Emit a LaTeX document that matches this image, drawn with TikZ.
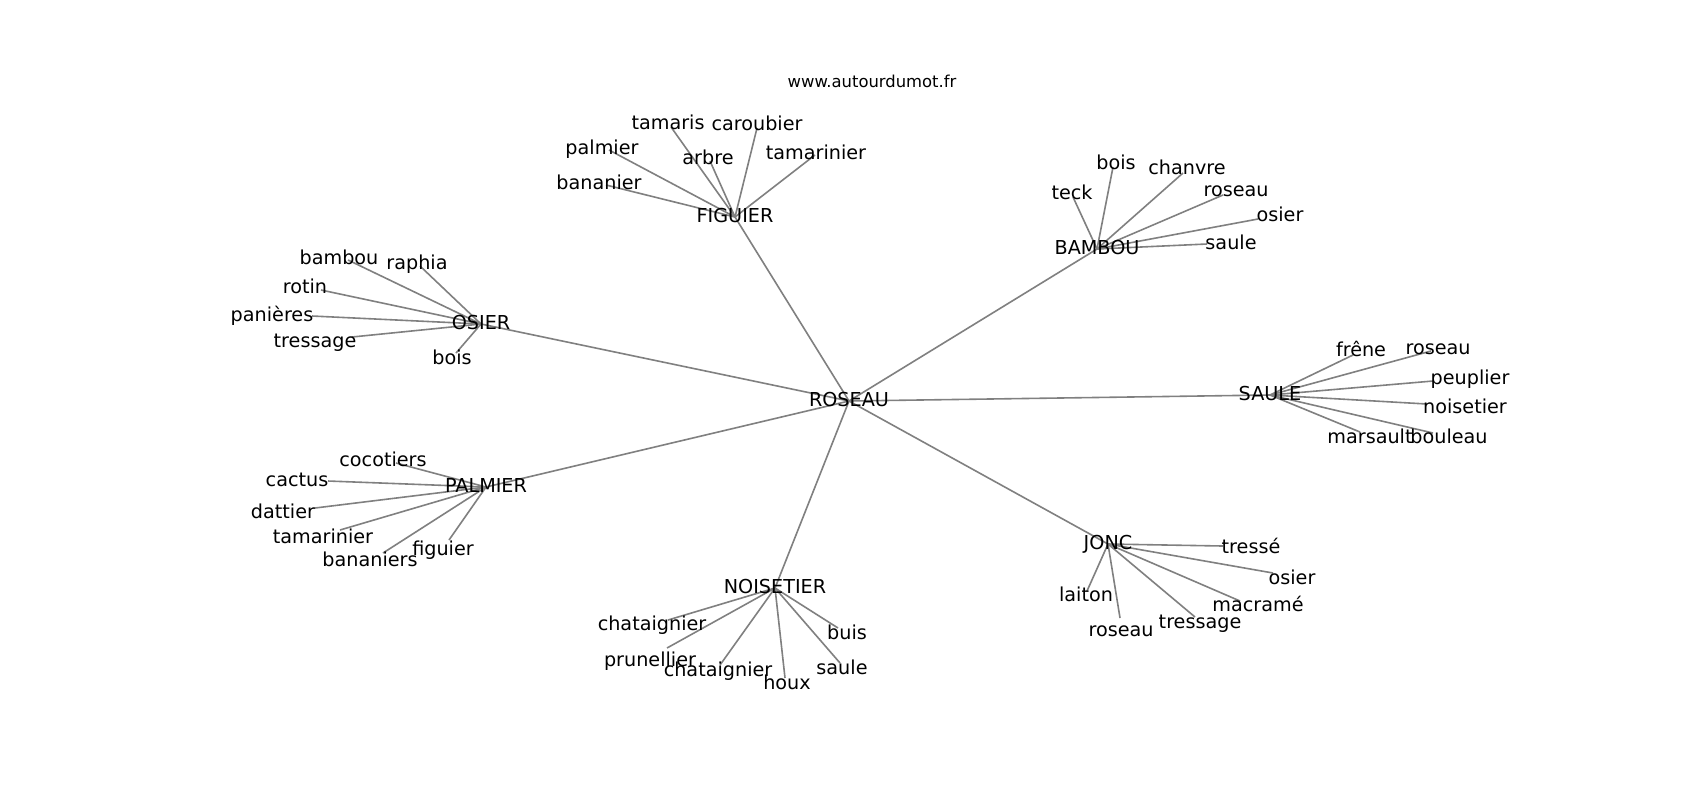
\documentclass[tikz,border=0pt]{standalone}
\usepackage{fontspec}
\setmainfont{DejaVu Sans}
\pgfdeclarelayer{bg}
\pgfdeclarelayer{edgelayer}
\pgfsetlayers{bg,edgelayer,main}
\newcommand{\lblfont}{\fontsize{9.6pt}{11pt}\selectfont}
\newcommand{\ttlfont}{\fontsize{8.2pt}{10pt}\selectfont}
\tikzset{
  txt/.style={font=\lblfont, text=black, text height=0.75em, text depth=0.25em, yshift=-1pt, inner sep=0pt},
  hub/.style={txt},
  leaf/.style={txt},
  edge/.style={draw=black!50, line width=0.8pt},
}
\begin{document}
\begin{tikzpicture}[x=0.5pt, y=-0.5pt]
\begin{pgfonlayer}{bg}
\fill[white] (0,0) rectangle (1700,800);
\end{pgfonlayer}
\useasboundingbox (0,0) rectangle (1700,800);

\node[font=\ttlfont, inner sep=0pt] (title) at (872,81) {www.autourdumot.fr};

% hubs
\node[hub] (ROSEAU) at (849,399) {ROSEAU};
\node[hub] (FIGUIER) at (735,215) {FIGUIER};
\node[hub] (BAMBOU) at (1097,247) {BAMBOU};
\node[hub] (OSIER) at (481,322) {OSIER};
\node[hub] (SAULE) at (1270,393) {SAULE};
\node[hub] (PALMIER) at (486,485) {PALMIER};
\node[hub] (JONC) at (1108,542) {JONC};
\node[hub] (NOISETIER) at (775,586) {NOISETIER};

% FIGUIER leaves
\node[leaf] (f-tamaris) at (668,122) {tamaris};
\node[leaf] (f-caroubier) at (757,123) {caroubier};
\node[leaf] (f-palmier) at (602,147) {palmier};
\node[leaf] (f-arbre) at (708,157) {arbre};
\node[leaf] (f-tamarinier) at (816,152) {tamarinier};
\node[leaf] (f-bananier) at (599,182) {bananier};
\coordinate (f-tamaris-e) at (671,127);
\coordinate (f-caroubier-e) at (757,128);
\coordinate (f-palmier-e) at (609,150);
\coordinate (f-arbre-e) at (710,161);
\coordinate (f-tamarinier-e) at (815,155);
\coordinate (f-bananier-e) at (606,185);

% BAMBOU leaves
\node[leaf] (b-teck) at (1072,192) {teck};
\node[leaf] (b-bois) at (1116,162) {bois};
\node[leaf] (b-chanvre) at (1187,167) {chanvre};
\node[leaf] (b-roseau) at (1236,189) {roseau};
\node[leaf] (b-osier) at (1280,214) {osier};
\node[leaf] (b-saule) at (1231,242) {saule};
\coordinate (b-teck-e) at (1073,197);
\coordinate (b-bois-e) at (1113,167);
\coordinate (b-chanvre-e) at (1183,173);
\coordinate (b-roseau-e) at (1223,195);
\coordinate (b-osier-e) at (1258,219);
\coordinate (b-saule-e) at (1207,244);

% OSIER leaves
\node[leaf] (o-bambou) at (339,257) {bambou};
\node[leaf] (o-raphia) at (417,262) {raphia};
\node[leaf] (o-rotin) at (305,286) {rotin};
\node[leaf] (o-panieres) at (272,314) {panières};
\node[leaf] (o-tressage) at (315,340) {tressage};
\node[leaf] (o-bois) at (452,357) {bois};
\coordinate (o-bambou-e) at (348,260);
\coordinate (o-raphia-e) at (420,266);
\coordinate (o-rotin-e) at (321,290);
\coordinate (o-panieres-e) at (312,316);
\coordinate (o-tressage-e) at (352,337);
\coordinate (o-bois-e) at (456,353);

% SAULE leaves
\node[leaf] (s-frene) at (1361,349) {frêne};
\node[leaf] (s-roseau) at (1438,347) {roseau};
\node[leaf] (s-peuplier) at (1470,377) {peuplier};
\node[leaf] (s-noisetier) at (1465,406) {noisetier};
\node[leaf] (s-marsault) at (1370,436) {marsault};
\node[leaf] (s-bouleau) at (1449,436) {bouleau};
\coordinate (s-frene-e) at (1353,355);
\coordinate (s-roseau-e) at (1431,351);
\coordinate (s-peuplier-e) at (1433,381);
\coordinate (s-noisetier-e) at (1427,404);
\coordinate (s-marsault-e) at (1360,432);
\coordinate (s-bouleau-e) at (1433,433);

% PALMIER leaves
\node[leaf] (p-cocotiers) at (383,459) {cocotiers};
\node[leaf] (p-cactus) at (297,479) {cactus};
\node[leaf] (p-dattier) at (283,511) {dattier};
\node[leaf] (p-tamarinier) at (323,536) {tamarinier};
\node[leaf] (p-bananiers) at (370,559) {bananiers};
\node[leaf] (p-figuier) at (443,548) {figuier};
\coordinate (p-cocotiers-e) at (396,463);
\coordinate (p-cactus-e) at (328,481);
\coordinate (p-dattier-e) at (315,508);
\coordinate (p-tamarinier-e) at (340,530);
\coordinate (p-bananiers-e) at (383,553);
\coordinate (p-figuier-e) at (449,540);

% JONC leaves
\node[leaf] (j-tresse) at (1251,546) {tressé};
\node[leaf] (j-osier) at (1292,577) {osier};
\node[leaf] (j-laiton) at (1086,594) {laiton};
\node[leaf] (j-macrame) at (1258,604) {macramé};
\node[leaf] (j-tressage) at (1200,621) {tressage};
\node[leaf] (j-roseau) at (1121,629) {roseau};
\coordinate (j-tresse-e) at (1223,546);
\coordinate (j-osier-e) at (1273,573);
\coordinate (j-laiton-e) at (1087,591);
\coordinate (j-macrame-e) at (1240,601);
\coordinate (j-tressage-e) at (1195,617);
\coordinate (j-roseau-e) at (1120,618);

% NOISETIER leaves
\node[leaf] (n-chataignier1) at (652,623) {chataignier};
\node[leaf] (n-buis) at (847,632) {buis};
\node[leaf] (n-prunellier) at (650,659) {prunellier};
\node[leaf] (n-chataignier2) at (718,669) {chataignier};
\node[leaf] (n-saule) at (842,667) {saule};
\node[leaf] (n-houx) at (787,682) {houx};
\coordinate (n-chataignier1-e) at (668,620);
\coordinate (n-buis-e) at (838,628);
\coordinate (n-prunellier-e) at (667,648);
\coordinate (n-chataignier2-e) at (720,665);
\coordinate (n-saule-e) at (840,663);
\coordinate (n-houx-e) at (785,678);

\begin{pgfonlayer}{edgelayer}
\foreach \h in {FIGUIER,BAMBOU,OSIER,SAULE,PALMIER,JONC,NOISETIER}
  \draw[edge] (ROSEAU.center) -- (\h.center);
\foreach \l in {tamaris,caroubier,palmier,arbre,tamarinier,bananier}
  \draw[edge] (FIGUIER.center) -- (f-\l-e);
\foreach \l in {teck,bois,chanvre,roseau,osier,saule}
  \draw[edge] (BAMBOU.center) -- (b-\l-e);
\foreach \l in {bambou,raphia,rotin,panieres,tressage,bois}
  \draw[edge] (OSIER.center) -- (o-\l-e);
\foreach \l in {frene,roseau,peuplier,noisetier,marsault,bouleau}
  \draw[edge] (SAULE.center) -- (s-\l-e);
\foreach \l in {cocotiers,cactus,dattier,tamarinier,bananiers,figuier}
  \draw[edge] (PALMIER.center) -- (p-\l-e);
\foreach \l in {tresse,osier,laiton,macrame,tressage,roseau}
  \draw[edge] (JONC.center) -- (j-\l-e);
\foreach \l in {chataignier1,buis,prunellier,chataignier2,saule,houx}
  \draw[edge] (NOISETIER.center) -- (n-\l-e);
\end{pgfonlayer}
\end{tikzpicture}
\end{document}
